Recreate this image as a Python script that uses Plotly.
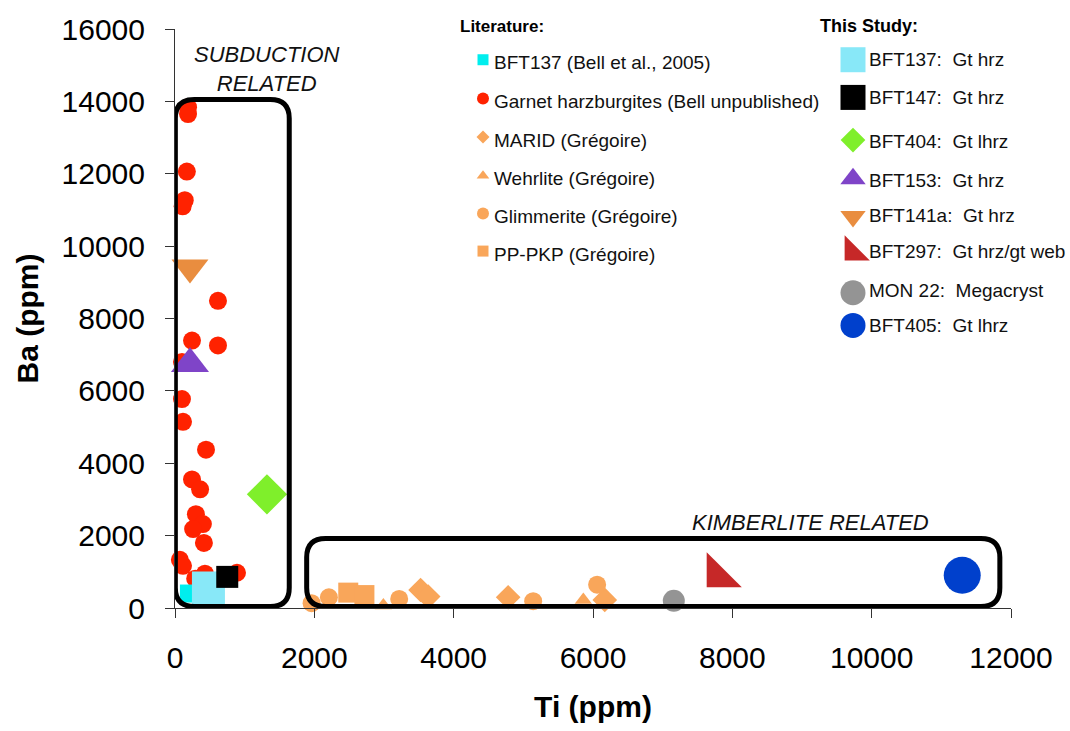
import plotly.graph_objects as go

# ---------------- data (Ti ppm, Ba ppm) ----------------
# Literature
lit_bft137_ti = [200]
lit_bft137_ba = [400]

harz_ti = [187, 187, 170, 140, 110, 617, 244, 617, 100, 100, 115, 445, 244, 360,
           300, 400, 260, 415, 70, 115, 430, 890, 290]
harz_ba = [13840, 13650, 12060, 11270, 11100, 8490, 7390, 7256, 6800, 5775, 5144,
           4376, 3553, 3280, 2593, 2318, 2181, 1798, 1331, 1166, 947, 974, 810]

marid_ti = [3525, 3634, 4782, 6169]
marid_ba = [498, 315, 297, 224]

wehrlite_ti = [2991, 5861]
wehrlite_ba = [70, 220]

glimmerite_ti = [1961, 2209, 3218, 5141, 6059]
glimmerite_ba = [133, 297, 252, 187, 645]

pppkp_ti = [2487, 2719]
pppkp_ba = [425, 357]

# This study
study_names = ["BFT137:  Gt hrz", "BFT147:  Gt hrz", "BFT404:  Gt lhrz", "BFT153:  Gt hrz",
               "BFT141a:  Gt hrz", "BFT297:  Gt hrz/gt web", "MON 22:  Megacryst",
               "BFT405:  Gt lhrz"]
study_ti = [480, 750, 1320, 215, 215, 7800, 7160, 11300]
study_ba = [550, 860, 3140, 6750, 9410, 895, 200, 905]

lit_names = ["BFT137 (Bell et al., 2005)", "Garnet harzburgites (Bell unpublished)",
             "MARID (Grégoire)", "Wehrlite (Grégoire)", "Glimmerite (Grégoire)",
             "PP-PKP (Grégoire)"]

x_ticks = [0, 2000, 4000, 6000, 8000, 10000, 12000]
y_ticks = [0, 2000, 4000, 6000, 8000, 10000, 12000, 14000, 16000]

# ---------------- styling ----------------
FONT = "Liberation Sans, Arial, sans-serif"
W, H = 1070, 731
ML, MR, MT, MB = 175, 59, 24, 123
PLOT_W, PLOT_H = W - ML - MR, H - MT - MB


def px_to_paper(px, py):
    """Convert a pixel position on the page to paper coordinates."""
    return (px - ML) / PLOT_W, (H - MB - py) / PLOT_H


ORANGE_LIT = "#F9A65A"
lit_styles = [
    dict(symbol="square", color="#00EEEE", size=18, leg=11),
    dict(symbol="circle", color="#FF2200", size=18, leg=12),
    dict(symbol="diamond", color=ORANGE_LIT, size=19, leg=10),
    dict(symbol="triangle-up", color=ORANGE_LIT, size=15, leg=11),
    dict(symbol="circle", color=ORANGE_LIT, size=18, leg=12),
    dict(symbol="square", color=ORANGE_LIT, size=20, leg=11),
]
study_styles = [
    dict(symbol="square", color="#88E8F8", size=33, leg=25),
    dict(symbol="square", color="#000000", size=22, leg=25),
    dict(symbol="diamond", color="#7FEF2B", size=31, leg=19),
    dict(symbol="triangle-up", color="#7F44C8", size=33, leg=22),
    dict(symbol="triangle-down", color="#E98D3F", size=32, leg=22),
    dict(symbol="triangle-sw", color="#C62828", size=39, leg=28),
    dict(symbol="circle", color="#949494", size=22, leg=25),
    dict(symbol="circle", color="#0040CC", size=37, leg=25),
]

fig = go.Figure()

lit_series = [
    (lit_bft137_ti, lit_bft137_ba),
    (harz_ti, harz_ba),
    (marid_ti, marid_ba),
    (wehrlite_ti, wehrlite_ba),
    (glimmerite_ti, glimmerite_ba),
    (pppkp_ti, pppkp_ba),
]
# draw harzburgites first so the small BFT137 square sits on top of them
order = [1, 0, 2, 3, 4, 5]
for i in order:
    xs, ys = lit_series[i]
    st = lit_styles[i]
    fig.add_trace(go.Scatter(
        x=xs, y=ys, mode="markers", name=lit_names[i], showlegend=False,
        cliponaxis=False,
        marker=dict(symbol=st["symbol"], color=st["color"], size=st["size"],
                    line=dict(width=0)),
    ))

for i, name in enumerate(study_names):
    st = study_styles[i]
    fig.add_trace(go.Scatter(
        x=[study_ti[i]], y=[study_ba[i]], mode="markers", name=name, showlegend=False,
        cliponaxis=False,
        marker=dict(symbol=st["symbol"], color=st["color"], size=st["size"],
                    line=dict(width=0)),
    ))

# ---------------- hand-built legends (pixel-space overlay axes) ----------------
lit_leg_x, lit_txt_x = 483, 492
lit_leg_y = [55, 94, 133, 172, 210, 248]
study_leg_x, study_txt_x = 853, 867
study_leg_y = [55, 93, 136, 175, 213, 249, 290, 323]
study_txt_y = [55, 93, 137, 177, 212, 248, 288, 323]

for i, st in enumerate(lit_styles):
    fig.add_trace(go.Scatter(
        x=[lit_leg_x], y=[lit_leg_y[i]], xaxis="x2", yaxis="y2", mode="markers",
        showlegend=False, hoverinfo="skip", cliponaxis=False,
        marker=dict(symbol=st["symbol"], color=st["color"], size=st["leg"],
                    line=dict(width=0)),
    ))
for i, st in enumerate(study_styles):
    fig.add_trace(go.Scatter(
        x=[study_leg_x], y=[study_leg_y[i]], xaxis="x2", yaxis="y2", mode="markers",
        showlegend=False, hoverinfo="skip", cliponaxis=False,
        marker=dict(symbol=st["symbol"], color=st["color"], size=st["leg"],
                    line=dict(width=0)),
    ))


def label(px, py, text, size, xanchor="left", bold=False, italic=False, color="#111111"):
    x, y = px_to_paper(px, py)
    return dict(x=x, y=y, xref="paper", yref="paper",
                text=f"<b>{text}</b>" if bold else text,
                showarrow=False, xanchor=xanchor, yanchor="middle",
                font=dict(family=FONT, size=size, color=color,
                          style="italic" if italic else "normal"))


annotations = [
    label(458, 21, "Literature:", 17, bold=True, color="black"),
    label(818, 21, "This Study:", 18, bold=True, color="black"),
]
for i, name in enumerate(lit_names):
    annotations.append(label(lit_txt_x, lit_leg_y[i] + 3, name, 19))
for i, name in enumerate(study_names):
    annotations.append(label(study_txt_x, study_txt_y[i], name, 19))

# region labels
annotations.append(label(267, 64, "SUBDUCTION<br>RELATED", 22, xanchor="center", italic=True))
annotations.append(label(810, 522, "KIMBERLITE RELATED", 22, xanchor="center", italic=True))

# ---------------- rounded region boxes (data units) ----------------
x_per_px = 12000 / PLOT_W
y_per_px = 16000 / PLOT_H
CORNER_PX = 19


def rounded_box(x0, x1, y0, y1, r_px=CORNER_PX):
    rx, ry = r_px * x_per_px, r_px * y_per_px
    return (f"M {x0 + rx},{y0} L {x1 - rx},{y0} Q {x1},{y0} {x1},{y0 + ry} "
            f"L {x1},{y1 - ry} Q {x1},{y1} {x1 - rx},{y1} "
            f"L {x0 + rx},{y1} Q {x0},{y1} {x0},{y1 - ry} "
            f"L {x0},{y0 + ry} Q {x0},{y0} {x0 + rx},{y0} Z")


subduction_box = (5, 1640, 40, 14050)
kimberlite_box = (1890, 11840, 40, 1920)

shapes = [
    dict(type="path", xref="x", yref="y", path=rounded_box(*subduction_box),
         line=dict(color="black", width=5), layer="above"),
    dict(type="path", xref="x", yref="y", path=rounded_box(*kimberlite_box),
         line=dict(color="black", width=5), layer="above"),
]

axis_common = dict(showgrid=False, zeroline=False, showline=True, linecolor="#333333",
                   linewidth=1, ticks="outside", ticklen=9, tickcolor="#333333",
                   tickwidth=1, tickformat="d",
                   tickfont=dict(family=FONT, size=30, color="black"))

fig.update_layout(
    width=W, height=H, autosize=False,
    margin=dict(l=ML, r=MR, t=MT, b=MB, pad=0),
    paper_bgcolor="white", plot_bgcolor="white",
    showlegend=False,
    xaxis=dict(range=[0, 12000], tickvals=x_ticks, ticklabelstandoff=14,
               title=dict(text="<b>Ti (ppm)</b>", standoff=22,
                          font=dict(family=FONT, size=30, color="black")),
               **axis_common),
    yaxis=dict(range=[0, 16000], tickvals=y_ticks, ticklabelstandoff=14,
               title=dict(text="<b>Ba (ppm)</b>", standoff=14,
                          font=dict(family=FONT, size=30, color="black")),
               **axis_common),
    xaxis2=dict(overlaying="x", range=[ML, W - MR], visible=False, fixedrange=True),
    yaxis2=dict(overlaying="y", range=[H - MB, MT], visible=False, fixedrange=True),
    shapes=shapes,
    annotations=annotations,
)

fig.write_html("out.html")
